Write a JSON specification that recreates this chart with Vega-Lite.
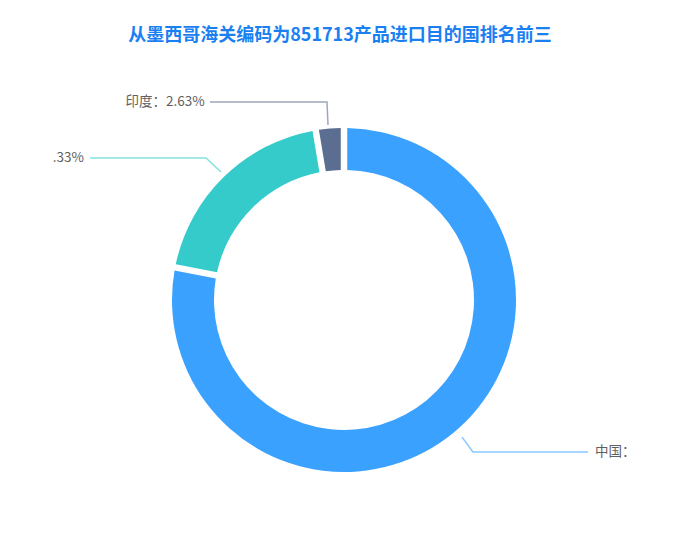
{
  "$schema": "https://vega.github.io/schema/vega-lite/v6.json",
  "description": "从墨西哥海关编码为851713产品进口目的国排名前三",
  "width": 680,
  "height": 500,
  "autosize": {"type": "none"},
  "padding": {"left": 0, "right": 0, "top": 50, "bottom": 2},
  "background": "white",
  "title": {
    "text": "从墨西哥海关编码为851713产品进口目的国排名前三",
    "font": "Noto Sans CJK SC",
    "fontSize": 18,
    "fontWeight": "bold",
    "color": "#1a80f2",
    "anchor": "middle",
    "frame": "group",
    "offset": 5
  },
  "datasets": {
    "shares": [
      {"country": "中国", "pct": 78.04, "order": 1},
      {"country": "美国", "pct": 19.33, "order": 2},
      {"country": "印度", "pct": 2.63, "order": 3}
    ],
    "leaders": [
      {"country": "印度", "seq": 1, "x": -0.093, "y": 1.017},
      {"country": "印度", "seq": 2, "x": -0.099, "y": 1.151},
      {"country": "印度", "seq": 3, "x": -0.779, "y": 1.151},
      {"country": "美国", "seq": 1, "x": -0.715, "y": 0.744},
      {"country": "美国", "seq": 2, "x": -0.802, "y": 0.826},
      {"country": "美国", "seq": 3, "x": -1.477, "y": 0.826},
      {"country": "中国", "seq": 1, "x": 0.686, "y": -0.797},
      {"country": "中国", "seq": 2, "x": 0.75, "y": -0.884},
      {"country": "中国", "seq": 3, "x": 1.419, "y": -0.884}
    ],
    "labels": [
      {"country": "印度", "label": "印度：2.63%", "side": "left", "x": -0.81, "y": 1.151},
      {"country": "美国", "label": ".33%", "side": "left", "x": -1.512, "y": 0.826},
      {"country": "中国", "label": "中国：", "side": "right", "x": 1.459, "y": -0.884}
    ]
  },
  "layer": [
    {
      "data": {"name": "shares"},
      "mark": {"type": "arc", "radius": 172, "radius2": 130, "padAngle": 0.03},
      "encoding": {
        "x": {"datum": 0, "type": "quantitative", "scale": {"domain": [-2.0, 1.9535], "nice": false, "zero": false}, "axis": null},
        "y": {"datum": 0, "type": "quantitative", "scale": {"domain": [-1.4535, 1.4535], "nice": false, "zero": false}, "axis": null},
        "theta": {"field": "pct", "type": "quantitative", "stack": true},
        "order": {"field": "order", "type": "quantitative"},
        "color": {
          "field": "country",
          "type": "nominal",
          "scale": {"domain": ["中国", "美国", "印度"], "range": ["#3ba1ff", "#36cbcb", "#5b6e91"]},
          "legend": null
        }
      }
    },
    {
      "data": {"name": "leaders"},
      "mark": {"type": "line", "strokeWidth": 1.5, "opacity": 0.6},
      "encoding": {
        "x": {"field": "x", "type": "quantitative", "axis": null},
        "y": {"field": "y", "type": "quantitative", "axis": null},
        "detail": {"field": "country"},
        "order": {"field": "seq", "type": "quantitative"},
        "color": {"field": "country", "type": "nominal", "legend": null}
      }
    },
    {
      "data": {"name": "labels"},
      "transform": [{"filter": "datum.side == 'left'"}],
      "mark": {"type": "text", "align": "right", "baseline": "middle", "font": "Noto Sans CJK SC", "fontSize": 13.5, "color": "#5f5f5f"},
      "encoding": {
        "x": {"field": "x", "type": "quantitative", "axis": null},
        "y": {"field": "y", "type": "quantitative", "axis": null},
        "text": {"field": "label"}
      }
    },
    {
      "data": {"name": "labels"},
      "transform": [{"filter": "datum.side == 'right'"}],
      "mark": {"type": "text", "align": "left", "baseline": "middle", "font": "Noto Sans CJK SC", "fontSize": 13.5, "color": "#5f5f5f"},
      "encoding": {
        "x": {"field": "x", "type": "quantitative", "axis": null},
        "y": {"field": "y", "type": "quantitative", "axis": null},
        "text": {"field": "label"}
      }
    }
  ],
  "config": {
    "view": {"stroke": null}
  }
}
